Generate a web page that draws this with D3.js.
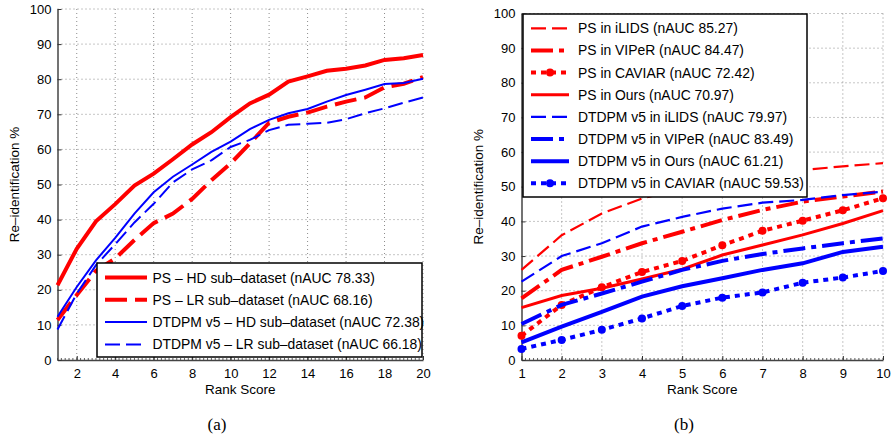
<!DOCTYPE html>
<html>
<head>
<meta charset="utf-8">
<script src="https://cdnjs.cloudflare.com/ajax/libs/d3/7.8.5/d3.min.js"></script>
<style>
    body { margin: 0; background: #fff; }
    svg text { font-family: "Liberation Sans", Arial, Helvetica, sans-serif; fill: #000; }
</style>
</head>
<body>
<svg id="chart" width="891" height="438"></svg>
<script>

// Panel (a): CMC curves for the HD / LR sub-datasets, ranks 1..20
var ranksA = [1, 2, 3, 4, 5, 6, 7, 8, 9, 10, 11, 12, 13, 14, 15, 16, 17, 18, 19, 20];
var psHD     = [21.3, 31.7, 39.5, 44.4, 49.7, 53.1, 57.2, 61.4, 64.9, 69.2, 73.1, 75.6, 79.3, 80.8, 82.4, 83.0, 83.9, 85.5, 86.0, 86.9];
var psLR     = [11.4, 18.5, 25.4, 28.9, 34.2, 39.0, 41.7, 45.9, 51.2, 56.0, 61.7, 67.6, 69.3, 70.5, 72.2, 73.6, 74.8, 77.7, 78.7, 80.6];
var dtdpmHD  = [12.3, 20.8, 28.4, 34.8, 41.7, 47.8, 52.2, 55.7, 59.3, 62.2, 65.8, 68.4, 70.3, 71.5, 73.6, 75.5, 77.0, 78.6, 78.9, 80.1];
var dtdpmLR  = [8.7, 18.9, 27.0, 33.0, 39.2, 44.5, 50.6, 54.3, 56.9, 60.7, 62.7, 65.5, 67.0, 67.3, 67.6, 68.6, 70.3, 71.7, 73.3, 74.8];
var legendA  = ["PS \u2013 HD sub\u2013dataset (nAUC 78.33)",
                "PS \u2013 LR sub\u2013dataset (nAUC 68.16)",
                "DTDPM v5 \u2013 HD sub\u2013dataset (nAUC 72.38)",
                "DTDPM v5 \u2013 LR sub\u2013dataset (nAUC 66.18)"];
var xTicksA = [2, 4, 6, 8, 10, 12, 14, 16, 18, 20];

// Panel (b): the two methods trained on the other datasets, ranks 1..10
var ranksB = [1, 2, 3, 4, 5, 6, 7, 8, 9, 10];
var psILIDS     = [26.0, 36.0, 42.3, 46.6, 49.5, 51.6, 53.3, 54.8, 55.9, 56.8];
var psVIPeR     = [17.8, 26.0, 29.8, 33.7, 37.0, 40.4, 43.3, 45.7, 47.2, 48.6];
var psCAVIAR    = [7.0, 15.9, 21.0, 25.4, 28.6, 33.1, 37.3, 40.2, 43.2, 46.7];
var psOurs      = [15.1, 18.6, 20.7, 23.4, 26.2, 30.3, 33.2, 36.1, 39.4, 43.1];
var dtdpmILIDS  = [22.6, 30.0, 33.7, 38.5, 41.3, 43.7, 45.4, 46.2, 47.6, 48.6];
var dtdpmVIPeR  = [10.4, 15.9, 19.2, 22.6, 26.0, 28.6, 30.6, 32.2, 33.7, 35.1];
var dtdpmOurs   = [5.1, 9.6, 13.9, 18.3, 21.3, 23.6, 26.0, 27.9, 31.2, 32.7];
var dtdpmCAVIAR = [3.2, 5.8, 8.7, 12.0, 15.6, 18.0, 19.5, 22.3, 23.8, 25.7];
var legendB = ["PS in iLIDS (nAUC 85.27)",
               "PS in VIPeR (nAUC 84.47)",
               "PS in CAVIAR (nAUC 72.42)",
               "PS in Ours (nAUC 70.97)",
               "DTDPM v5 in iLIDS (nAUC 79.97)",
               "DTDPM v5 in VIPeR (nAUC 83.49)",
               "DTDPM v5 in Ours (nAUC 61.21)",
               "DTDPM v5 in CAVIAR (nAUC 59.53)"];
var xTicksB = [1, 2, 3, 4, 5, 6, 7, 8, 9, 10];

var yTicks = [0, 10, 20, 30, 40, 50, 60, 70, 80, 90, 100];

var RED = "#ff0000", BLUE = "#0000ff";

// MATLAB-ish line styles
var DASH_THIN = "15,6", DASH_THICK = "22,8", DASHDOT = "22,6,5,6", DOTTED = "5,5";

var svg = d3.select("#chart");

function drawPanel(p) {
    var x = d3.scaleLinear().domain(p.xDomain).range([p.left, p.right]);
    var y = d3.scaleLinear().domain([0, 100]).range([p.bottom, p.top]);
    var g = svg.append("g");

    // dotted grid first so everything else sits on top
    g.selectAll(".gx").data(p.xTicks.filter(function(v){ return v != p.xDomain[0]; }))
        .enter().append("line")
        .attr("x1", function(d){ return x(d); }).attr("x2", function(d){ return x(d); })
        .attr("y1", p.top).attr("y2", p.bottom)
        .style("stroke", "#8c8c8c").style("stroke-dasharray", "1,3").style("stroke-width", 1);
    g.selectAll(".gy").data(yTicks.filter(function(v){ return v > 0; }))
        .enter().append("line")
        .attr("x1", p.left).attr("x2", p.right)
        .attr("y1", function(d){ return y(d); }).attr("y2", function(d){ return y(d); })
        .style("stroke", "#8c8c8c").style("stroke-dasharray", "1,3").style("stroke-width", 1);

    // minor ticks along the bottom axis
    var minor = d3.range(p.xDomain[0], p.xDomain[1] + 1e-9, p.minorStep);
    g.selectAll(".mt").data(minor).enter().append("line")
        .attr("x1", function(d){ return x(d); }).attr("x2", function(d){ return x(d); })
        .attr("y1", p.bottom).attr("y2", p.bottom - 2)
        .style("stroke", "#333").style("stroke-width", 0.8);

    var xAxis = g.append("g")
        .attr("transform", "translate(0," + p.bottom + ")")
        .call(d3.axisBottom(x).tickValues(p.xTicks).tickSize(-4).tickSizeOuter(0).tickPadding(9));
    var yAxis = g.append("g")
        .attr("transform", "translate(" + p.left + ",0)")
        .call(d3.axisLeft(y).tickValues(yTicks).tickSize(-4).tickSizeOuter(0).tickPadding(6));

    [xAxis, yAxis].forEach(function(a){
        a.select(".domain").style("stroke", "#444").style("stroke-width", 1.5);
        a.selectAll(".tick line").style("stroke", "#333").style("stroke-width", 1);
        a.selectAll("text").style("font-size", "13px").style("font-family", "'Liberation Sans', Arial, sans-serif").style("fill", "#000");
    });

    // the curves
    var line = d3.line()
        .x(function(d){ return x(d[0]); })
        .y(function(d){ return y(d[1]); });

    p.series.forEach(function(s){
        var pts = p.ranks.map(function(r, i){ return [r, s.values[i]]; });
        g.append("path")
            .datum(pts)
            .attr("d", line)
            .style("fill", "none")
            .style("stroke", s.color)
            .style("stroke-width", s.width)
            .style("stroke-dasharray", s.dash || null);
        if (s.marker) {
            g.selectAll(null).data(pts).enter().append("circle")
                .attr("cx", function(d){ return x(d[0]); })
                .attr("cy", function(d){ return y(d[1]); })
                .attr("r", 4)
                .style("fill", s.color);
        }
    });

    // legend box, white so it hides the curves under it
    var L = p.legend;
    g.append("rect")
        .attr("x", L.x).attr("y", L.y).attr("width", L.w).attr("height", L.h)
        .style("fill", "#fff").style("stroke", "#000").style("stroke-width", 1.5);
    p.series.forEach(function(s, i){
        var cy = L.firstRow + i * L.rowGap;
        g.append("line")
            .attr("x1", L.sx1).attr("x2", L.sx2).attr("y1", cy).attr("y2", cy)
            .style("stroke", s.color).style("stroke-width", s.width)
            .style("stroke-dasharray", s.dash || null);
        if (s.marker) {
            g.append("circle").attr("cx", (L.sx1 + L.sx2) / 2).attr("cy", cy).attr("r", 4).style("fill", s.color);
        }
        g.append("text")
            .attr("x", L.tx).attr("y", cy).attr("dy", "0.36em")
            .style("font-size", "13.9px")
            .text(s.label);
    });

    // axis titles
    svg.append("text")
        .attr("x", (p.left + p.right) / 2).attr("y", 394)
        .attr("text-anchor", "middle").style("font-size", "13.5px")
        .text("Rank Score");
    svg.append("text")
        .attr("transform", "translate(" + p.ylabelX + "," + (p.top + p.bottom) / 2 + ") rotate(-90)")
        .attr("text-anchor", "middle").style("font-size", "13.5px")
        .text("Re\u2013identification %");
    svg.append("text")
        .attr("x", p.captionX).attr("y", 430)
        .attr("text-anchor", "middle")
        .style("font-family", "'Liberation Serif', 'Times New Roman', serif").style("font-size", "17px")
        .text(p.caption);
}

drawPanel({
    xDomain: [1, 20], xTicks: xTicksA, minorStep: 0.2, ranks: ranksA,
    left: 57.5, right: 423, top: 9, bottom: 360,
    ylabelX: 19, captionX: 217, caption: "(a)",
    legend: { x: 97, y: 263, w: 325, h: 94, firstRow: 277.5, rowGap: 22.3, sx1: 105, sx2: 147, tx: 152.5 },
    series: [
        { label: legendA[0], values: psHD,    color: RED,  width: 4 },
        { label: legendA[1], values: psLR,    color: RED,  width: 4, dash: DASH_THICK },
        { label: legendA[2], values: dtdpmHD, color: BLUE, width: 2 },
        { label: legendA[3], values: dtdpmLR, color: BLUE, width: 2, dash: DASH_THIN }
    ]
});

drawPanel({
    xDomain: [1, 10], xTicks: xTicksB, minorStep: 0.1, ranks: ranksB,
    left: 521.5, right: 883, top: 13.5, bottom: 360,
    ylabelX: 483, captionX: 684, caption: "(b)",
    legend: { x: 523, y: 14, w: 284, h: 183, firstRow: 28.3, rowGap: 22.14, sx1: 531, sx2: 569, tx: 578 },
    series: [
        { label: legendB[0], values: psILIDS,     color: RED,  width: 2.2, dash: DASH_THIN },
        { label: legendB[1], values: psVIPeR,     color: RED,  width: 4,   dash: DASHDOT },
        { label: legendB[2], values: psCAVIAR,    color: RED,  width: 4,   dash: DOTTED, marker: true },
        { label: legendB[3], values: psOurs,      color: RED,  width: 3 },
        { label: legendB[4], values: dtdpmILIDS,  color: BLUE, width: 2.2, dash: DASH_THIN },
        { label: legendB[5], values: dtdpmVIPeR,  color: BLUE, width: 4,   dash: DASHDOT },
        { label: legendB[6], values: dtdpmOurs,   color: BLUE, width: 4 },
        { label: legendB[7], values: dtdpmCAVIAR, color: BLUE, width: 4,   dash: DOTTED, marker: true }
    ]
});

</script>
</body>
</html>
